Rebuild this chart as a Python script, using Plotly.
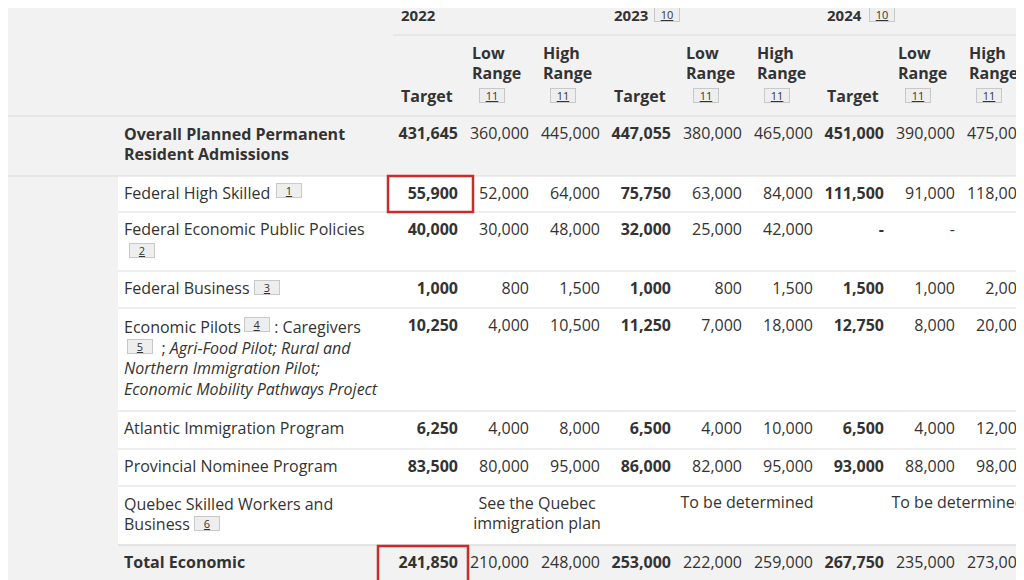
import plotly.graph_objects as go

# table content
years = ["2022", "2023", "2024"]
sub_headers = ["Target", "Low<br>Range", "High<br>Range"] * 3
categories = [
    "<b>Overall Planned Permanent<br>Resident Admissions</b>",
    "Federal High Skilled",
    "Federal Economic Public Policies",
    "Federal Business",
    "Economic Pilots        : Caregivers<br>         ; <i>Agri-Food Pilot; Rural and</i><br><i>Northern Immigration Pilot;</i><br><i>Economic Mobility Pathways Project</i>",
    "Atlantic Immigration Program",
    "Provincial Nominee Program",
    "Quebec Skilled Workers and<br>Business",
    "<b>Total Economic</b>",
]
values = [
    ["431,645", "360,000", "445,000", "447,055", "380,000", "465,000", "451,000", "390,000", "475,000"],
    ["55,900", "52,000", "64,000", "75,750", "63,000", "84,000", "111,500", "91,000", "118,000"],
    ["40,000", "30,000", "48,000", "32,000", "25,000", "42,000", "-", "-", "-"],
    ["1,000", "800", "1,500", "1,000", "800", "1,500", "1,500", "1,000", "2,000"],
    ["10,250", "4,000", "10,500", "11,250", "7,000", "18,000", "12,750", "8,000", "20,000"],
    ["6,250", "4,000", "8,000", "6,500", "4,000", "10,000", "6,500", "4,000", "12,000"],
    ["83,500", "80,000", "95,000", "86,000", "82,000", "95,000", "93,000", "88,000", "98,000"],
    ["", "", "", "", "", "", "", "", ""],
    ["241,850", "210,000", "248,000", "253,000", "222,000", "259,000", "267,750", "235,000", "273,000"],
]
quebec_notes = ["See the Quebec<br>immigration plan", "To be determined", "To be determined"]

# layout geometry (pixels)
row_top = [116, 176, 212, 271, 308, 411, 449, 486, 545]
col_right = [458, 529, 600, 671, 742, 813, 884, 955, 1026]
col_left = [401, 472, 543, 614, 686, 757, 827, 898, 969]
FONT = "Open Sans"
TXT = "#333333"
OFF = 8  # page body margin

fig = go.Figure()

# backgrounds
fig.add_shape(type="rect", x0=-20, x1=1100, y0=-20, y1=700, fillcolor="#f2f2f2", line_width=0, layer="below")
fig.add_shape(type="rect", x0=118, x1=1100, y0=176, y1=545, fillcolor="white", line_width=0, layer="below")
for y in row_top + [545]:
    x0 = -20 if y in (116, 176) else 118
    fig.add_shape(type="line", x0=x0, x1=1100, y0=y, y1=y, line=dict(color="#dcdcdc", width=1))
fig.add_shape(type="line", x0=393, x1=1100, y0=35, y1=35, line=dict(color="#dcdcdc", width=1))

# header texts
fig.add_trace(go.Scatter(x=[col_left[0], col_left[3], col_left[6]], y=[17] * 3, text=["<b>%s</b>" % y for y in years],
                         mode="text", textposition="middle right", textfont=dict(family=FONT, size=15, color=TXT)))
fig.add_trace(go.Scatter(x=col_left, y=[98 if s == "Target" else 65 for s in sub_headers],
                         text=["<b>%s</b>" % s for s in sub_headers], mode="text", textposition="middle right",
                         textfont=dict(family=FONT, size=16, color=TXT), cliponaxis=False))
fig.add_trace(go.Scatter(x=[0, 0], y=[98, 194], text=["<b>Immigrant Category</b>", "<b>Economic</b>"],
                         mode="text", textposition="middle right", textfont=dict(family=FONT, size=16, color=TXT)))

# category column
nlines = [c.count("<br>") + 1 for c in categories]
fig.add_trace(go.Scatter(x=[124] * len(categories), y=[t + 8 + 11 * n for t, n in zip(row_top, nlines)],
                         text=categories, mode="text", textposition="middle right",
                         textfont=dict(family=FONT, size=16, color=TXT)))

# numbers
xs, ys, ts = [], [], []
for r, row in enumerate(values):
    for c, v in enumerate(row):
        if v:
            xs.append(col_right[c])
            ys.append(row_top[r] + 19)
            ts.append("<b>%s</b>" % v if c % 3 == 0 else v)
fig.add_trace(go.Scatter(x=xs, y=ys, text=ts, mode="text", textposition="middle left",
                         textfont=dict(family=FONT, size=16, color=TXT), cliponaxis=False))
fig.add_trace(go.Scatter(x=[537, 747, 958], y=[515, 504, 504], text=quebec_notes, mode="text",
                         textposition="middle center", textfont=dict(family=FONT, size=16, color=TXT),
                         cliponaxis=False))

# footnote boxes
notes = [("1", 289, 190), ("2", 142, 250), ("3", 267, 287), ("4", 257, 324), ("5", 140, 346), ("6", 207, 523),
         ("10", 667, 14), ("10", 882, 14)] + [("11", x + 20, 95) for x in (472, 543, 686, 757, 898, 969)]
for n, x, y in notes:
    fig.add_annotation(x=x, y=y, text="<u>%s</u>" % n, showarrow=False, font=dict(family=FONT, size=11, color="#333"),
                       bgcolor="#eeeeee", bordercolor="#c8c8c8", borderwidth=1, borderpad=0, width=24, height=13)

# highlights
fig.add_shape(type="rect", x0=388, x1=473, y0=176, y1=212, line=dict(color="#cc2b2b", width=2.5))
fig.add_shape(type="rect", x0=378, x1=468, y0=546, y1=582, line=dict(color="#cc2b2b", width=2.5))

fig.update_layout(width=1024, height=580, margin=dict(l=0, r=0, t=0, b=0), showlegend=False,
                  paper_bgcolor="#f2f2f2", plot_bgcolor="#f2f2f2",
                  xaxis=dict(range=[OFF, 1024 + OFF], visible=False, fixedrange=True),
                  yaxis=dict(range=[580 + OFF, OFF], visible=False, fixedrange=True))
fig.write_html("out.html")
